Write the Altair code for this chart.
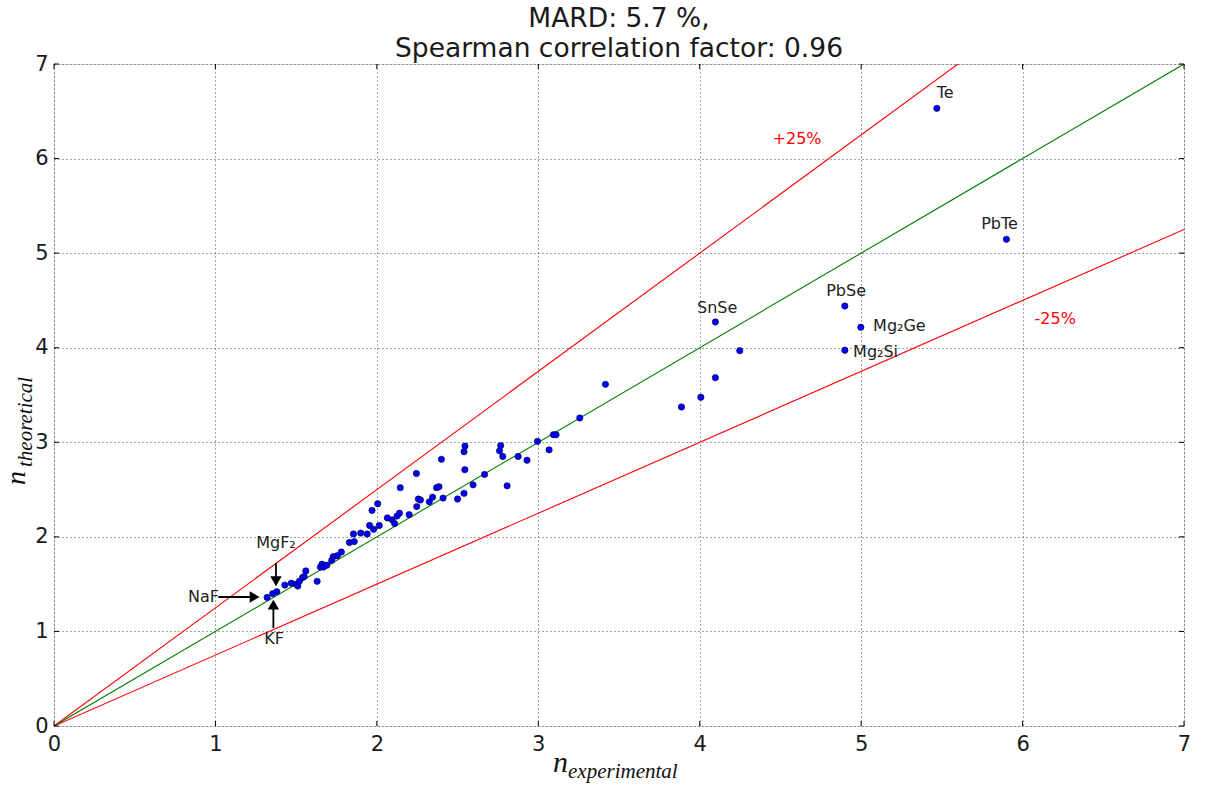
import altair as alt
import pandas as pd

# ---- data ----
x_exp = [1.32, 1.355, 1.38, 1.43, 1.47, 1.50, 1.51, 1.52, 1.54, 1.55, 1.56, 1.63, 1.65, 1.66,
         1.67, 1.69, 1.72, 1.73, 1.755, 1.78, 1.83, 1.855, 1.86, 1.90, 1.94, 1.955, 1.97, 1.98,
         2.005, 2.015, 2.065, 2.095, 2.11, 2.125, 2.14, 2.145, 2.20, 2.245, 2.247, 2.257, 2.27,
         2.325, 2.345, 2.37, 2.385, 2.40, 2.41, 2.50, 2.54, 2.545, 2.54, 2.546, 2.596, 2.667,
         2.76, 2.767, 2.78, 2.807, 2.875, 2.93, 2.995, 3.067, 3.094, 3.11, 3.257, 3.416, 3.887,
         4.007, 4.097, 4.097, 4.248, 4.899, 4.998, 4.899, 5.469, 5.90]
n_theo = [1.36, 1.40, 1.42, 1.49, 1.51, 1.50, 1.48, 1.53, 1.57, 1.58, 1.64, 1.53, 1.68, 1.71,
          1.68, 1.70, 1.75, 1.79, 1.80, 1.84, 1.94, 2.03, 1.95, 2.04, 2.03, 2.12, 2.28, 2.08,
          2.35, 2.12, 2.20, 2.18, 2.14, 2.22, 2.25, 2.52, 2.235, 2.67, 2.32, 2.40, 2.39,
          2.37, 2.42, 2.52, 2.53, 2.82, 2.41, 2.40, 2.46, 2.71, 2.90, 2.96, 2.55, 2.66,
          2.91, 2.965, 2.85, 2.54, 2.85, 2.81, 3.01, 2.92, 3.08, 3.08, 3.257, 3.613, 3.373,
          3.476, 3.683, 4.272, 3.969, 4.441, 4.216, 3.973, 6.531, 5.146]

# reference lines (exact, +25 %, -25 %)
line_names = ["+25%", "exact", "-25%"]
line_x_end = [7, 7, 7]
line_y_end = [8.75, 7.0, 5.25]
line_colors = ["#ff0000", "#008000", "#ff0000"]

# annotation texts
ann_text = ["SnSe", "PbSe", "Te", "PbTe", "Mg\u2082Ge", "Mg\u2082Si", "+25%", "-25%", "NaF", "MgF\u2082", "KF"]
ann_x = [4.108, 4.907, 5.52, 5.857, 5.074, 4.95, 4.603, 6.202, 1.022, 1.375, 1.363]
ann_y = [4.425, 4.60, 6.69, 5.303, 4.23, 3.955, 6.207, 4.304, 1.364, 1.935, 0.92]
ann_align = ["center", "center", "center", "center", "left", "left", "center", "center", "right", "center", "center"]
ann_color = ["#222222"] * 6 + ["#ff0000", "#ff0000"] + ["#222222"] * 3

# arrows (tail -> head)
arr_x0 = [1.018, 1.375, 1.359]
arr_y0 = [1.364, 1.724, 1.036]
arr_x1 = [1.243, 1.375, 1.359]
arr_y1 = [1.364, 1.530, 1.284]
arr_shape = ["triangle-right", "triangle-down", "triangle-up"]

tick_values = [0, 1, 2, 3, 4, 5, 6, 7]

W, H = 1130, 662

pts = pd.DataFrame({"x": x_exp, "y": n_theo})
lines = pd.DataFrame({
    "name": line_names * 2,
    "x": [0, 0, 0] + line_x_end,
    "y": [0, 0, 0] + line_y_end,
})
anns = pd.DataFrame({"t": ann_text, "x": ann_x, "y": ann_y, "align": ann_align, "c": ann_color})
arrows = pd.DataFrame({"x0": arr_x0, "y0": arr_y0, "x1": arr_x1, "y1": arr_y1, "shape": arr_shape})
ticks = pd.DataFrame({"v": tick_values})

xs = alt.Scale(domain=[0, 7], nice=False, zero=False)
ys = alt.Scale(domain=[0, 7], nice=False, zero=False)

axis_common = dict(
    values=tick_values, ticks=False, domain=False,
    grid=True, gridColor="black", gridDash=[1, 3], gridWidth=0.8, gridOpacity=0.9,
    labelFont="DejaVu Sans", labelFontSize=21, labelColor="#1a1a1a",
    labelFlush=False, labelOverlap=False, title=None, format="d",
)

base = alt.Chart(pts)

points = base.mark_circle(size=40, color="#0000ff", opacity=1, stroke="#000033", strokeWidth=0.6).encode(
    x=alt.X("x:Q", scale=xs, axis=alt.Axis(labelPadding=7, **axis_common)),
    y=alt.Y("y:Q", scale=ys, axis=alt.Axis(labelPadding=6, **axis_common)),
)

line_layer = alt.Chart(lines).mark_line(strokeWidth=1.1, clip=True).encode(
    x=alt.X("x:Q", scale=xs),
    y=alt.Y("y:Q", scale=ys),
    detail="name:N",
    color=alt.Color("name:N", scale=alt.Scale(domain=line_names, range=line_colors), legend=None),
)


def txt(align):
    return alt.Chart(anns).transform_filter(alt.datum.align == align).mark_text(
        font="DejaVu Sans", fontSize=16, baseline="middle", align=align
    ).encode(
        x=alt.X("x:Q", scale=xs),
        y=alt.Y("y:Q", scale=ys),
        text="t:N",
        color=alt.Color("c:N", scale=None),
    )


arrow_shafts = alt.Chart(arrows).mark_rule(color="black", strokeWidth=1.8).encode(
    x=alt.X("x0:Q", scale=xs), y=alt.Y("y0:Q", scale=ys), x2="x1:Q", y2="y1:Q"
)
arrow_heads = alt.Chart(arrows).mark_point(filled=True, color="black", size=130, opacity=1).encode(
    x=alt.X("x1:Q", scale=xs), y=alt.Y("y1:Q", scale=ys),
    shape=alt.Shape("shape:N", scale=None),
)

# inward ticks on all four sides
tb = alt.Chart(ticks).mark_rule(color="black", strokeWidth=1)
t_bottom = tb.encode(x=alt.X("v:Q", scale=xs), y=alt.value(H), y2=alt.value(H - 5))
t_top = tb.encode(x=alt.X("v:Q", scale=xs), y=alt.value(0), y2=alt.value(5))
t_left = tb.encode(y=alt.Y("v:Q", scale=ys), x=alt.value(0), x2=alt.value(5))
t_right = tb.encode(y=alt.Y("v:Q", scale=ys), x=alt.value(W), x2=alt.value(W - 5))

# axis titles (math-style n with subscript)
one = pd.DataFrame({"k": [0]})


def label(text, x, y, size, angle=0, align="left"):
    return alt.Chart(one).mark_text(
        text=text, font="Liberation Serif", fontStyle="italic", fontSize=size,
        baseline="alphabetic", align=align, angle=angle, color="#111111"
    ).encode(x=alt.value(x), y=alt.value(y))


xt_n = label("n", 499, 708, 30)
xt_sub = label("experimental", 514, 714, 21)
yt_n = label("n", -29, 421, 28, angle=270)
yt_sub = label("theoretical", -22, 403, 21, angle=270)

chart = alt.layer(
    line_layer, points, txt("center"), txt("left"), txt("right"),
    arrow_shafts, arrow_heads, t_bottom, t_top, t_left, t_right,
    xt_n, xt_sub, yt_n, yt_sub,
).properties(
    width=W, height=H,
    title=alt.Title(["MARD: 5.7 %,", "Spearman correlation factor: 0.96"],
                    font="DejaVu Sans", fontSize=26.5, fontWeight="normal", color="#1a1a1a",
                    anchor="middle", lineHeight=30, offset=-9),
    autosize=alt.AutoSizeParams(type="none"),
    padding={"left": 54, "top": 64, "right": 21, "bottom": 59},
).configure_view(stroke="black", strokeWidth=1.3).configure(background="white")

chart.save("out.html", embed_options={"renderer": "svg", "actions": False})
